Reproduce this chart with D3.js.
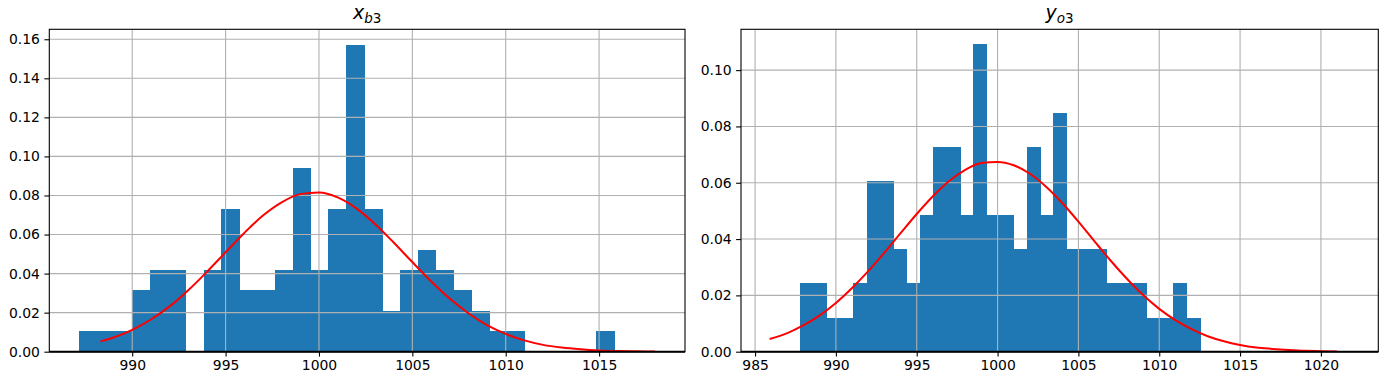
<!DOCTYPE html>
<html>
<head>
<meta charset="utf-8">
<script src="https://cdn.jsdelivr.net/npm/d3@7"></script>
<style>
  body { margin: 0; background: #fff; }
  svg { display: block; }
  text { font-family: "DejaVu Sans", sans-serif; fill: #000; }
</style>
</head>
<body>
<svg id="chart" width="1386" height="376"></svg>
<script>
// histogram counts, 30 equal bins per sample (100 samples each)
const xb3Range = [987.13, 1015.8]
const xb3Counts = [1, 1, 1, 3, 4, 4, 0, 4, 7, 3, 3, 4, 9, 4, 7, 15, 7, 2, 4, 5, 4, 3, 2, 1, 1, 0, 0, 0, 0, 1]
const yo3Range = [987.78, 1012.52]
const yo3Counts = [2, 2, 1, 1, 2, 5, 5, 3, 2, 4, 6, 6, 4, 9, 4, 4, 3, 6, 4, 7, 3, 3, 3, 2, 2, 2, 1, 1, 2, 1]

// fitted density curves
const xb3CurveX = [988.3, 989, 990, 991, 992, 993, 994, 995, 996, 997, 998, 999, 1000, 1001, 1002, 1003, 1004, 1005, 1006, 1007, 1008, 1009, 1010, 1011, 1012, 1013, 1014, 1015, 1016, 1017, 1018]
const xb3CurveY = [0.0053, 0.0073, 0.0112, 0.0165, 0.0232, 0.0315, 0.0409, 0.0509, 0.0608, 0.0697, 0.0765, 0.0807, 0.0815, 0.0790, 0.0734, 0.0654, 0.0559, 0.0459, 0.0361, 0.0272, 0.0197, 0.0136, 0.0091, 0.0058, 0.0035, 0.0021, 0.0012, 0.0006, 0.0003, 0.0002, 0.0001]
const yo3CurveX = [985.9, 987, 988, 989, 990, 991, 992, 993, 994, 995, 996, 997, 998, 999, 1000, 1001, 1002, 1003, 1004, 1005, 1006, 1007, 1008, 1009, 1010, 1011, 1012, 1013, 1014, 1015, 1016, 1017, 1018, 1019, 1020, 1021]
const yo3CurveY = [0.0045, 0.0066, 0.0094, 0.0129, 0.0173, 0.0226, 0.0286, 0.0352, 0.0421, 0.0489, 0.0552, 0.0606, 0.0646, 0.0670, 0.0674, 0.0662, 0.0632, 0.0586, 0.0528, 0.0462, 0.0392, 0.0323, 0.0259, 0.0201, 0.0152, 0.0112, 0.0080, 0.0055, 0.0037, 0.0024, 0.0015, 0.0010, 0.0006, 0.0003, 0.0002, 0.0001]

// axis ticks
const xb3XTicks = [990, 995, 1000, 1005, 1010, 1015]
const xb3YTicks = [0, 0.02, 0.04, 0.06, 0.08, 0.10, 0.12, 0.14, 0.16]
const yo3XTicks = [985, 990, 995, 1000, 1005, 1010, 1015, 1020]
const yo3YTicks = [0, 0.02, 0.04, 0.06, 0.08, 0.10]

const svg = d3.select('#chart')

function drawPanel(cfg) {
  const { left, right, top, bottom } = cfg.box
  const N = d3.sum(cfg.counts)
  const binW = (cfg.range[1] - cfg.range[0]) / cfg.counts.length

  var x = d3.scaleLinear().domain(cfg.xDomain).range([left, right])
  var y = d3.scaleLinear().domain(cfg.yDomain).range([bottom, top])

  const g = svg.append('g')

  const clip = 'clip-' + cfg.id
  g.append('clipPath').attr('id', clip)
    .append('rect')
    .attr('x', left).attr('y', top)
    .attr('width', right - left).attr('height', bottom - top)

  const plot = g.append('g').attr('clip-path', 'url(#' + clip + ')')

  const bins = cfg.counts.map((c, i) => ({
    x0: cfg.range[0] + i * binW,
    x1: cfg.range[0] + (i + 1) * binW,
    density: c / (N * binW)
  })).filter(d => d.density > 0)

  plot.selectAll('rect.bar')
    .data(bins)
    .enter().append('rect')
    .attr('class', 'bar')
    .attr('x', d => x(d.x0))
    .attr('width', d => x(d.x1) - x(d.x0) + 0.6)
    .attr('y', d => y(d.density))
    .attr('height', d => y(0) - y(d.density))
    .attr('fill', '#1f77b4')
    .attr('shape-rendering', 'crispEdges')

  // grid above the bars, as in the original
  plot.selectAll('line.vgrid')
    .data(cfg.xTicks)
    .enter().append('line')
    .attr('x1', d => x(d)).attr('x2', d => x(d))
    .attr('y1', top).attr('y2', bottom)
    .attr('stroke', '#b0b0b0').attr('stroke-width', 1.1)

  plot.selectAll('line.hgrid')
    .data(cfg.yTicks)
    .enter().append('line')
    .attr('x1', left).attr('x2', right)
    .attr('y1', d => y(d)).attr('y2', d => y(d))
    .attr('stroke', '#b0b0b0').attr('stroke-width', 1.1)

  const pts = cfg.curveX.map((v, i) => [v, cfg.curveY[i]])
  const line = d3.line()
    .x(d => x(d[0]))
    .y(d => y(d[1]))
    .curve(d3.curveMonotoneX)

  plot.append('path')
    .datum(pts)
    .attr('d', line)
    .attr('fill', 'none')
    .attr('stroke', '#ff0000')
    .attr('stroke-width', 2)

  // axes
  const xAxis = d3.axisBottom(x)
    .tickValues(cfg.xTicks)
    .tickFormat(d3.format('d'))
    .tickSize(4.9)
    .tickPadding(4)
  const yAxis = d3.axisLeft(y)
    .tickValues(cfg.yTicks)
    .tickFormat(d3.format('.2f'))
    .tickSize(4.9)
    .tickPadding(4.5)

  const gx = g.append('g').attr('transform', 'translate(0,' + bottom + ')').call(xAxis)
  const gy = g.append('g').attr('transform', 'translate(' + left + ',0)').call(yAxis)
  for (const ax of [gx, gy]) {
    ax.select('.domain').remove()
    ax.selectAll('line').attr('stroke', '#000').attr('stroke-width', 1.1)
    ax.selectAll('text')
      .style('font-family', '"DejaVu Sans", sans-serif')
      .style('font-size', '13.9px')
      .attr('fill', '#000')
  }

  // spines
  g.append('rect')
    .attr('x', left).attr('y', top)
    .attr('width', right - left).attr('height', bottom - top)
    .attr('fill', 'none').attr('stroke', '#000').attr('stroke-width', 1.1)
  g.append('line')
    .attr('x1', left).attr('x2', right)
    .attr('y1', bottom).attr('y2', bottom)
    .attr('stroke', '#000').attr('stroke-width', 2)

  // title: italic symbol with subscript
  const t = g.append('text')
    .attr('x', (left + right) / 2)
    .attr('y', top - 10)
    .attr('text-anchor', 'middle')
    .style('font-size', '19px')
  t.append('tspan').style('font-style', 'italic').text(cfg.sym)
  t.append('tspan').attr('dy', 4).style('font-size', '13.5px').style('font-style', 'italic').text(cfg.sub[0])
  t.append('tspan').style('font-size', '13.5px').text(cfg.sub.slice(1))
}

drawPanel({
  id: 'xb3', sym: 'x', sub: 'b3',
  box: { left: 49.3, right: 685, top: 29.3, bottom: 351.7 },
  range: xb3Range, counts: xb3Counts,
  curveX: xb3CurveX, curveY: xb3CurveY,
  xDomain: [985.56, 1019.6], yDomain: [0, 0.1651],
  xTicks: xb3XTicks, yTicks: xb3YTicks
})

drawPanel({
  id: 'yo3', sym: 'y', sub: 'o3',
  box: { left: 741, right: 1378.3, top: 29.3, bottom: 351.7 },
  range: yo3Range, counts: yo3Counts,
  curveX: yo3CurveX, curveY: yo3CurveY,
  xDomain: [984.13, 1023.55], yDomain: [0, 0.1145],
  xTicks: yo3XTicks, yTicks: yo3YTicks
})
</script>
</body>
</html>
